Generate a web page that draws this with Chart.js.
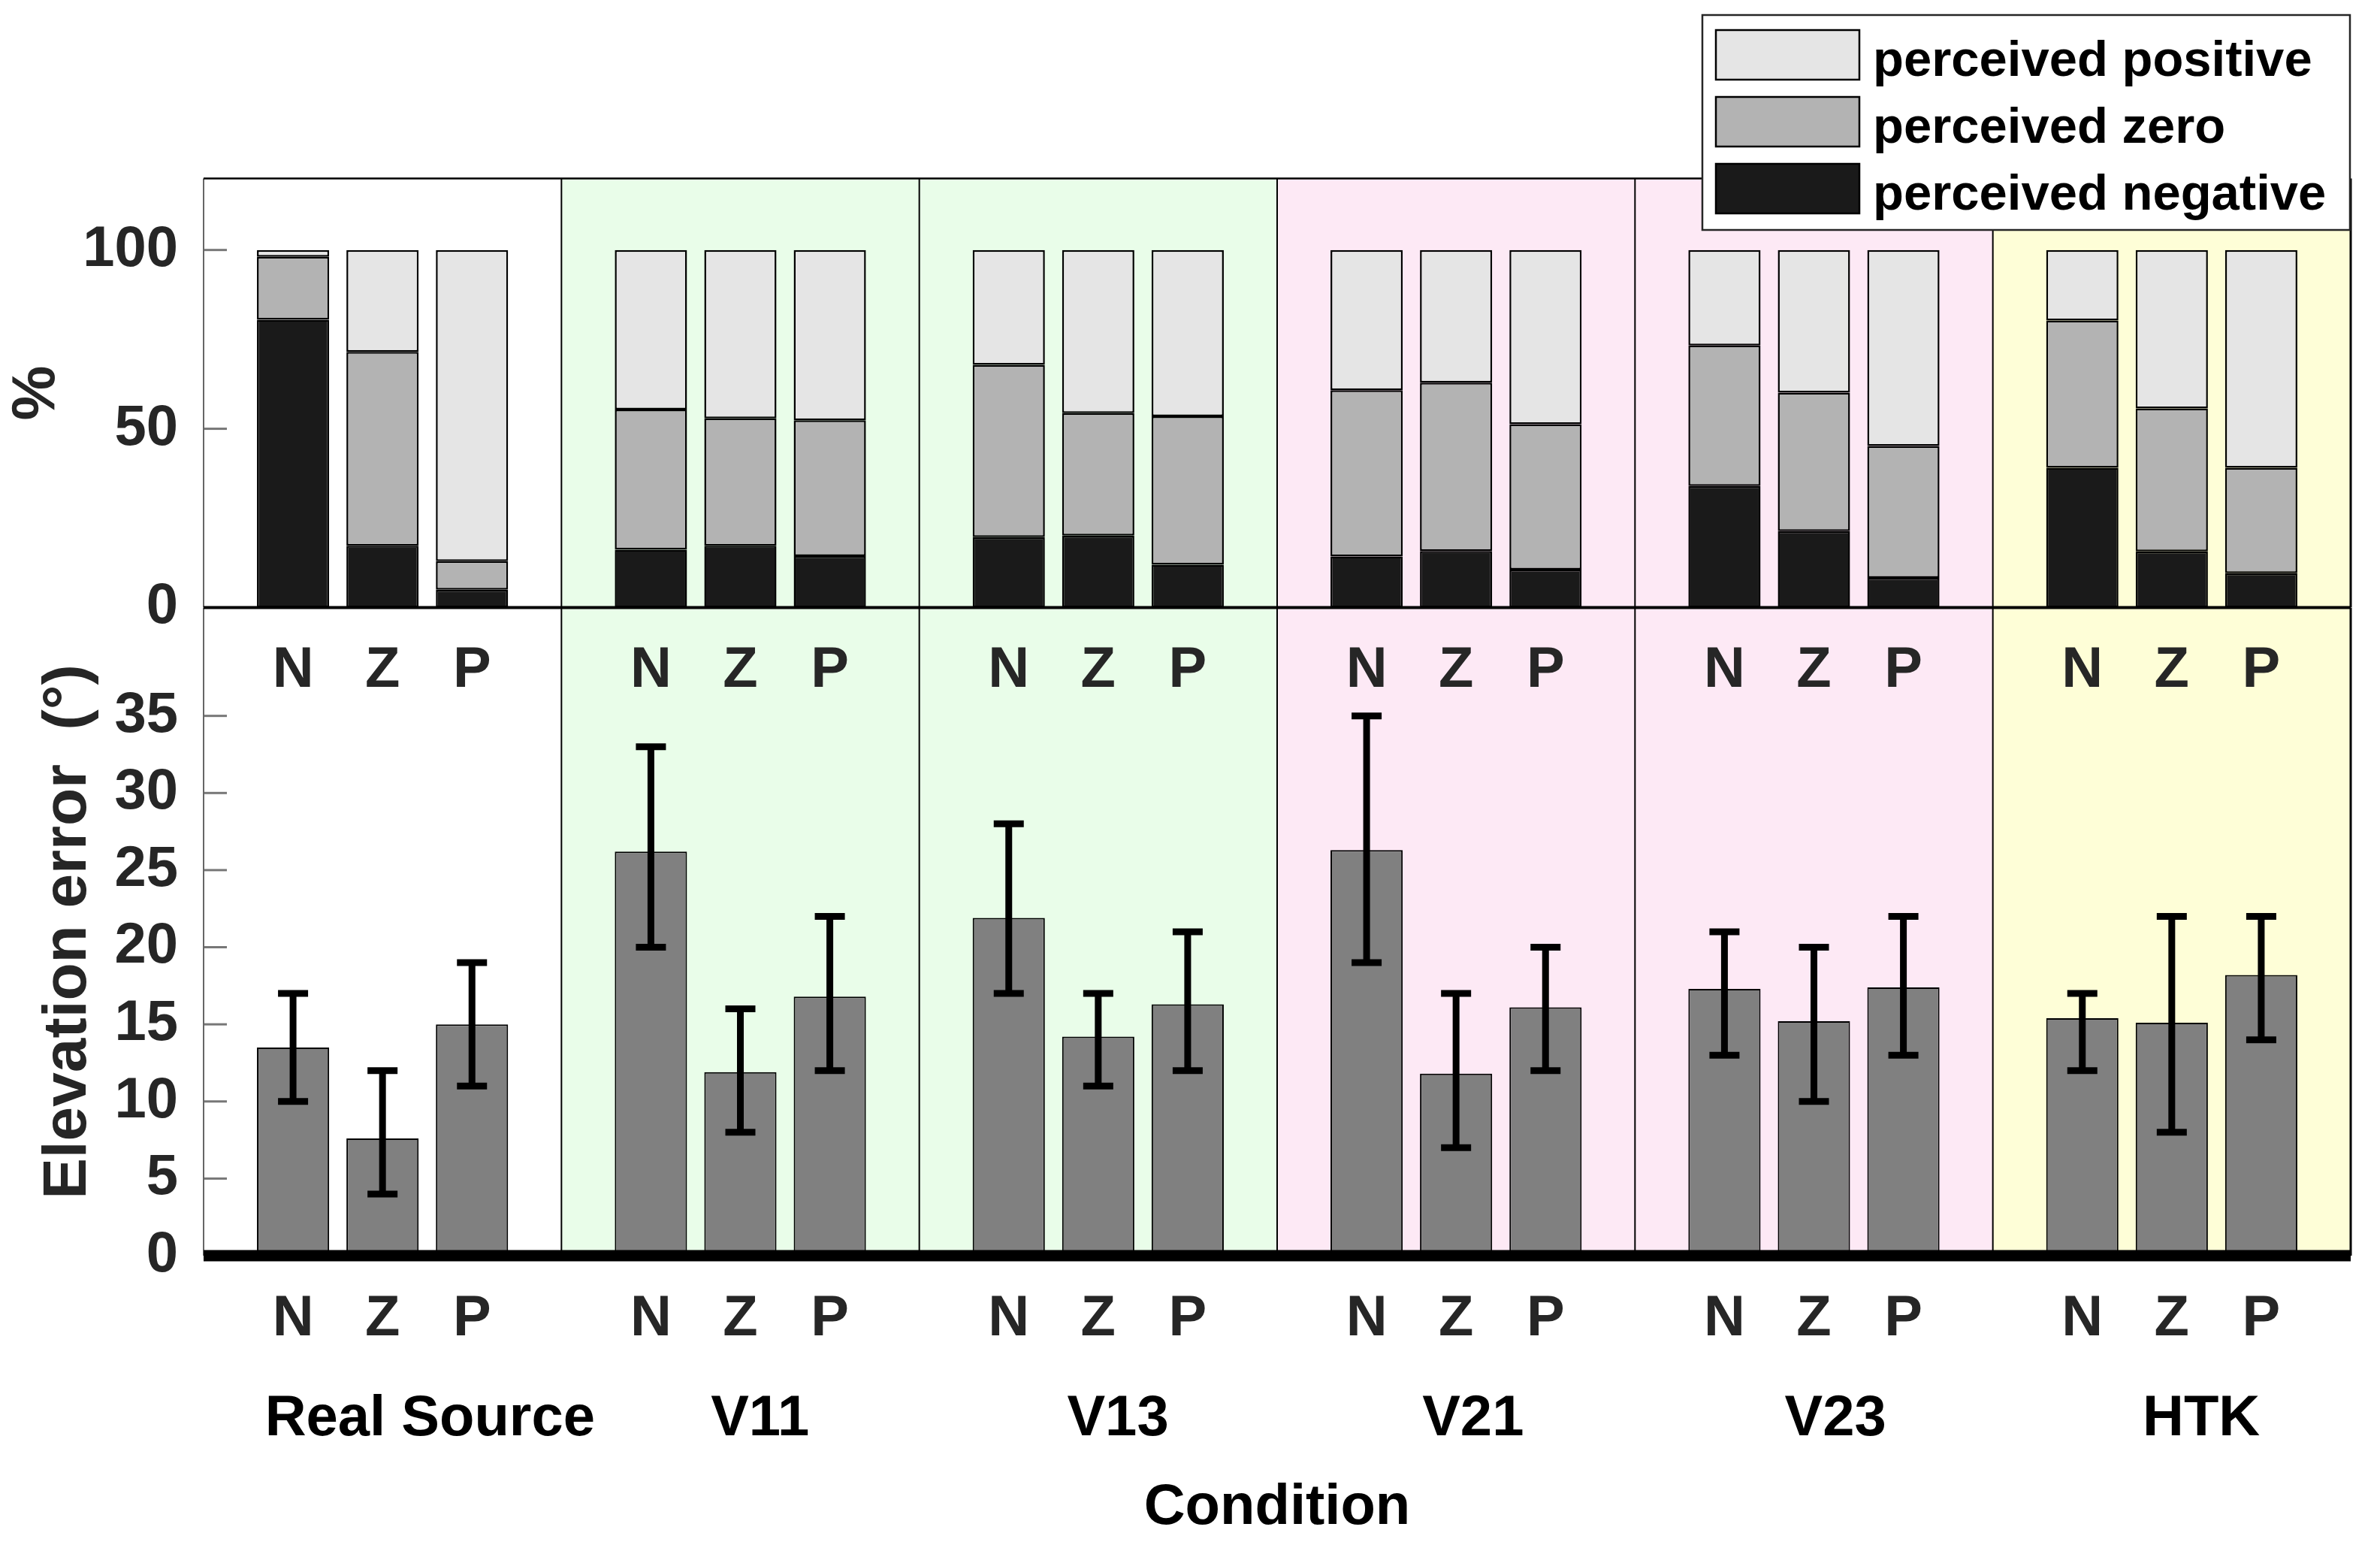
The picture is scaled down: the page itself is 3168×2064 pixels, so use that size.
<!DOCTYPE html>
<html><head><meta charset="utf-8">
<script src="https://cdn.jsdelivr.net/npm/chart.js@4.4.1/dist/chart.umd.min.js"></script>
<style>
html,body{margin:0;padding:0;background:#fff;overflow:hidden;}
#wrap{position:relative;width:3168px;height:2064px;}
canvas{position:absolute;left:0;top:0;}
</style></head><body>
<div id="wrap">
<canvas id="bottomChart" width="3168" height="2064"></canvas>
<canvas id="topChart" width="3168" height="2064"></canvas>
</div>
<script>
// ---------------- data ----------------
const groups = ['Real Source', 'V11', 'V13', 'V21', 'V23', 'HTK'];
const conditions = ['N', 'Z', 'P'];
const groupColors = ['#ffffff', '#e9fde9', '#e9fde9', '#fde9f5', '#fde9f5', '#fefed7'];

// percentages, order: group by group, N Z P
const perceivedNegative = [80.5, 17.3, 5.0, 16.2, 17.3, 14.4, 19.7, 20.1, 12.0, 14.3, 15.8, 10.6, 34.0, 21.4, 8.3, 39.1, 15.7, 9.6];
const perceivedZero     = [17.6, 54.2, 8.0, 39.2, 35.6, 38.0, 48.2, 34.3, 41.5, 46.5, 47.1, 40.7, 39.3, 38.7, 36.9, 41.2, 40.0, 29.5];
const perceivedPositive = [1.9, 28.5, 87.0, 44.6, 47.1, 47.6, 32.1, 45.6, 46.5, 39.2, 37.1, 48.7, 26.7, 39.9, 54.8, 19.7, 44.3, 60.9];

// elevation error (degrees)
const elevationError = [13.5, 7.6, 15.0, 26.2, 11.9, 16.8, 21.9, 14.2, 16.3, 26.3, 11.8, 16.1, 17.3, 15.2, 17.4, 15.4, 15.1, 18.2];
const errorLow       = [10, 4, 11, 20, 8, 12, 17, 11, 12, 19, 7, 12, 13, 10, 13, 12, 8, 14];
const errorHigh      = [17, 12, 19, 33, 16, 22, 28, 17, 21, 35, 17, 20, 21, 20, 22, 17, 22, 22];

const percentTicks = [0, 50, 100];
const errorTicks = [0, 5, 10, 15, 20, 25, 30, 35];

// ---------------- helpers ----------------
const FONT = '"Liberation Sans", Arial, Helvetica, sans-serif';
const groupLabelShift = [0.53, 0.22, 0.22, 0.19, 0.24, 0.33]; // label placement (style)
const slotLabels = [''];
groups.forEach(() => { slotLabels.push(...conditions, ''); });
function toSlots(arr) {
  const out = [null];
  groups.forEach((g, gi) => {
    conditions.forEach((c, ci) => out.push(arr[gi * conditions.length + ci]));
    out.push(null);
  });
  return out;
}
const slotsPerGroup = conditions.length + 1;

function panelPlugin(zeroWidth) {
  return {
    id: 'panel',
    beforeDatasetsDraw(chart) {
      const {ctx, chartArea: a, scales: {x, y}} = chart;
      ctx.save();
      groups.forEach((g, gi) => {
        const x0 = x.getPixelForValue(gi * slotsPerGroup);
        const x1 = x.getPixelForValue((gi + 1) * slotsPerGroup);
        ctx.fillStyle = groupColors[gi];
        ctx.fillRect(x0, a.top, x1 - x0, a.bottom - a.top);
      });
      ctx.strokeStyle = '#777';
      ctx.lineWidth = 3;
      y.ticks.forEach(t => {
        const py = y.getPixelForValue(t.value);
        ctx.beginPath(); ctx.moveTo(a.left, py); ctx.lineTo(a.left + 31, py); ctx.stroke();
      });
      ctx.restore();
    },
    afterDatasetsDraw(chart) {
      const {ctx, chartArea: a, scales: {x, y}} = chart;
      ctx.save();
      ctx.strokeStyle = '#000';
      ctx.lineWidth = 2;
      for (let gi = 1; gi < groups.length; gi++) {
        const px = x.getPixelForValue(gi * slotsPerGroup);
        ctx.beginPath(); ctx.moveTo(px, a.top); ctx.lineTo(px, a.bottom); ctx.stroke();
      }
      ctx.strokeStyle = '#666';
      ctx.lineWidth = 2;
      ctx.beginPath(); ctx.moveTo(a.left, a.top); ctx.lineTo(a.left, a.bottom); ctx.stroke();
      ctx.strokeStyle = '#000';
      ctx.lineWidth = 3;
      ctx.beginPath(); ctx.moveTo(a.right, a.top); ctx.lineTo(a.right, a.bottom); ctx.stroke();
      const y0 = y.getPixelForValue(0);
      ctx.lineWidth = zeroWidth;
      ctx.beginPath(); ctx.moveTo(a.left, y0); ctx.lineTo(a.right, y0); ctx.stroke();
      ctx.restore();
    }
  };
}

const topFrame = {
  id: 'topFrame',
  afterDatasetsDraw(chart) {
    const {ctx, chartArea: a} = chart;
    ctx.save();
    ctx.strokeStyle = '#000';
    ctx.lineWidth = 2.5;
    ctx.beginPath(); ctx.moveTo(a.left, a.top); ctx.lineTo(a.right, a.top); ctx.stroke();
    ctx.restore();
  }
};

const legendPlugin = {
  id: 'customLegend',
  afterDraw(chart) {
    const ctx = chart.ctx;
    const ds = chart.data.datasets.slice().reverse();
    ctx.save();
    const bx = 2266, by = 20, bw = 862, bh = 286;
    ctx.fillStyle = '#fff';
    ctx.fillRect(bx, by, bw, bh);
    ctx.strokeStyle = '#262626';
    ctx.lineWidth = 2.5;
    ctx.strokeRect(bx, by, bw, bh);
    ds.forEach((d, i) => {
      const sy = 40 + i * 89;
      ctx.fillStyle = d.backgroundColor;
      ctx.fillRect(2284, sy, 191, 66);
      ctx.strokeStyle = '#000';
      ctx.lineWidth = 2.5;
      ctx.strokeRect(2284, sy, 191, 66);
      ctx.fillStyle = '#000';
      ctx.font = 'bold 67px ' + FONT;
      ctx.textBaseline = 'alphabetic';
      ctx.textAlign = 'left';
      ctx.fillText(d.label, 2493, sy + 61);
    });
    ctx.restore();
  }
};

const errorBarPlugin = {
  id: 'errorBars',
  afterDatasetsDraw(chart) {
    const {ctx, scales: {y}} = chart;
    const meta = chart.getDatasetMeta(0);
    const lows = toSlots(errorLow), highs = toSlots(errorHigh);
    ctx.save();
    ctx.strokeStyle = '#000';
    ctx.lineWidth = 9;
    ctx.lineCap = 'butt';
    meta.data.forEach((el, i) => {
      if (lows[i] == null) return;
      const px = el.x;
      const yl = y.getPixelForValue(lows[i]);
      const yh = y.getPixelForValue(highs[i]);
      ctx.beginPath();
      ctx.moveTo(px, yh); ctx.lineTo(px, yl);
      ctx.moveTo(px - 20, yh); ctx.lineTo(px + 20, yh);
      ctx.moveTo(px - 20, yl); ctx.lineTo(px + 20, yl);
      ctx.stroke();
    });
    ctx.restore();
  }
};

const groupLabelPlugin = {
  id: 'groupLabels',
  afterDraw(chart) {
    const {ctx, chartArea: a, scales: {x}} = chart;
    ctx.save();
    ctx.fillStyle = '#000';
    ctx.font = 'bold 76px ' + FONT;
    ctx.textAlign = 'center';
    ctx.textBaseline = 'alphabetic';
    groups.forEach((g, gi) => {
      const px = x.getPixelForValue(gi * slotsPerGroup + 2 + groupLabelShift[gi]);
      ctx.fillText(g, px, a.bottom + 239);
    });
    ctx.restore();
  }
};

const tickFont = {family: FONT, weight: 'bold', size: 76};

// ---------------- bottom chart ----------------
new Chart(document.getElementById('bottomChart'), {
  type: 'bar',
  data: {
    labels: slotLabels,
    datasets: [{
      label: 'Elevation error',
      data: toSlots(elevationError),
      backgroundColor: '#808080',
      borderColor: '#000',
      borderWidth: 2,
      borderSkipped: false,
      barPercentage: 0.807,
      categoryPercentage: 1
    }]
  },
  options: {
    responsive: false,
    animation: false,
    layout: {padding: {top: 809, right: 21.3, left: 0, bottom: 0}},
    plugins: {legend: {display: false}, tooltip: {enabled: false}},
    scales: {
      x: {
        type: 'category',
        offset: false,
        grid: {display: false, drawTicks: false},
        border: {display: false},
        ticks: {autoSkip: false, maxRotation: 0, minRotation: 0, padding: 39, color: '#262626', font: tickFont},
        title: {display: true, text: 'Condition', color: '#000', font: {family: FONT, weight: 'bold', size: 76}, padding: {top: 0, bottom: 11}},
        afterFit: s => { s.height = 393; }
      },
      y: {
        min: 0, max: 42,
        afterBuildTicks: s => { s.ticks = errorTicks.map(v => ({value: v})); },
        grid: {display: false, drawTicks: false},
        border: {display: false},
        ticks: {padding: 34, color: '#262626', font: tickFont},
        title: {display: true, text: 'Elevation error  (°)', color: '#262626', font: {family: FONT, weight: 'bold', size: 82}, padding: {top: 42, bottom: 0}},
        afterFit: s => { s.width = 271; }
      }
    }
  },
  plugins: [panelPlugin(15), errorBarPlugin, groupLabelPlugin]
});

// ---------------- top chart ----------------
const barCommon = {borderColor: '#000', borderWidth: 2.5, borderSkipped: false, barPercentage: 0.807, categoryPercentage: 1, stack: 'perceived'};
new Chart(document.getElementById('topChart'), {
  type: 'bar',
  data: {
    labels: slotLabels,
    datasets: [
      Object.assign({label: 'perceived negative', data: toSlots(perceivedNegative), backgroundColor: '#1a1a1a'}, barCommon),
      Object.assign({label: 'perceived zero', data: toSlots(perceivedZero), backgroundColor: '#b3b3b3'}, barCommon),
      Object.assign({label: 'perceived positive', data: toSlots(perceivedPositive), backgroundColor: '#e5e5e5'}, barCommon)
    ]
  },
  options: {
    responsive: false,
    animation: false,
    layout: {padding: {top: 237.5, right: 21.3, left: 0, bottom: 0}},
    plugins: {legend: {display: false}, tooltip: {enabled: false}},
    scales: {
      x: {
        type: 'category',
        offset: false,
        stacked: true,
        grid: {display: false, drawTicks: false},
        border: {display: false},
        ticks: {autoSkip: false, maxRotation: 0, minRotation: 0, padding: 39, color: '#262626', font: tickFont},
        afterFit: s => { s.height = 2064 - 808.5; }
      },
      y: {
        stacked: true,
        min: 0, max: 120,
        afterBuildTicks: s => { s.ticks = percentTicks.map(v => ({value: v})); },
        grid: {display: false, drawTicks: false},
        border: {display: false},
        ticks: {padding: 34, color: '#262626', font: tickFont},
        title: {display: true, text: '%', color: '#262626', font: {family: FONT, weight: 'bold', size: 82}, padding: {top: 0, bottom: 0}},
        afterFit: s => { s.width = 271; }
      }
    }
  },
  plugins: [panelPlugin(4), topFrame, legendPlugin]
});
</script>
</body></html>
